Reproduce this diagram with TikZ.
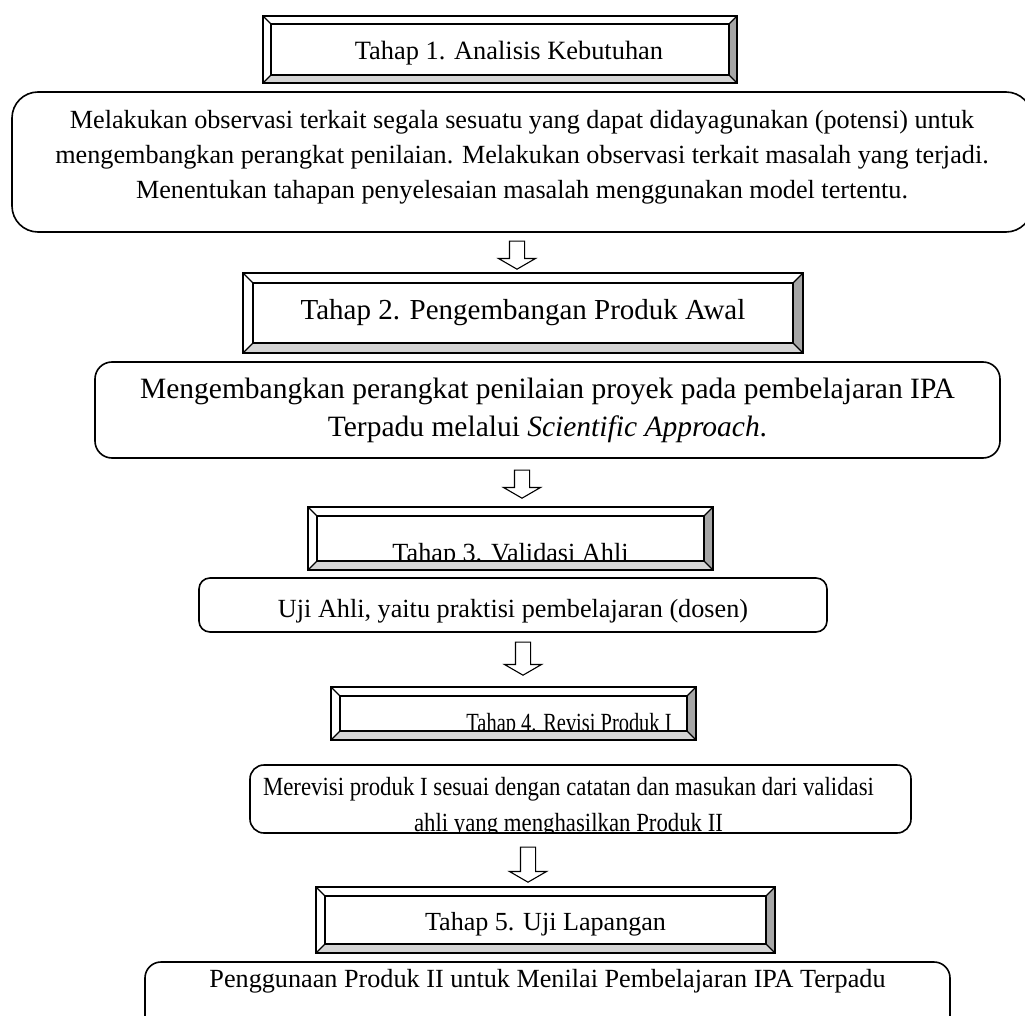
\documentclass[tikz,border=0pt]{standalone}
\usepackage{fontspec}
\usepackage{graphicx}
\setmainfont{Liberation Serif}
\usetikzlibrary{shapes,arrows}
\definecolor{bevelbawah}{HTML}{D4D4D4}
\definecolor{bevelkanan}{HTML}{A6A6A6}
\newcommand{\turun}[2]{\smash{\raisebox{-#1}{#2}}}
\tikzset{
  tahap/.style={draw, line width=1.6pt, outer sep=0pt, inner sep=0pt, font=\fontsize{26.2}{30}\selectfont},
  isi/.style={draw, rounded corners=#1, line width=1.6pt, outer sep=0pt, inner sep=0pt, align=center, font=\fontsize{26.2}{35}\selectfont},
  isi/.default=16pt,
  panah/.style={single arrow, draw, line width=1.1pt, shape border rotate=270, minimum height=#1, minimum width=0pt,
      single arrow head extend=11pt, single arrow tip angle=120, inner xsep=7pt, inner ysep=0pt},
  panah/.default=28pt
}

\begin{document}
\begin{tikzpicture}[x=1pt, y=1pt, node distance=100pt]
    \useasboundingbox (0,0) rectangle (1025,-1016);

	\node[tahap, minimum width=474pt, minimum height=67pt, font=\fontsize{26.4}{30}\selectfont] (tahap1) at (500,-49.5)
        {\turun{10.5pt}{\hspace*{18pt}Tahap 1. Analisis Kebutuhan}};
	\node[isi=26pt, below of=tahap1, node distance=112.5pt, xshift=22pt, minimum width=1020pt, minimum height=140pt] (isi1)
        {Melakukan observasi terkait segala sesuatu yang dapat didayagunakan (potensi) untuk\\
         mengembangkan perangkat penilaian. Melakukan observasi terkait masalah yang terjadi.\\
         Menentukan tahapan penyelesaian masalah menggunakan model tertentu.\rule[-16pt]{0pt}{1pt}};
	\node[panah, below of=isi1, node distance=91pt, xshift=-5pt] (panah1) {};

	\node[tahap, below of=panah1, node distance=60pt, xshift=6pt, minimum width=560pt, minimum height=80pt, font=\fontsize{29}{34}\selectfont] (tahap2)
        {Tahap 2. Pengembangan Produk Awal};
	\node[isi=17pt, below of=tahap2, node distance=97pt, xshift=24.5pt, minimum width=905pt, minimum height=96pt, font=\fontsize{29.5}{38}\selectfont] (isi2)
        {Mengembangkan perangkat penilaian proyek pada pembelajaran IPA\\
         Terpadu melalui \textit{Scientific Approach}.};
	\node[panah, below of=isi2, node distance=72pt, xshift=-25.5pt] (panah2) {};

	\node[tahap, below of=panah2, node distance=56.5pt, xshift=-11.5pt, minimum width=405pt, minimum height=63pt] (tahap3)
        {\turun{22.5pt}{Tahap 3. Validasi Ahli}};
	\node[isi=11pt, below of=tahap3, node distance=66.5pt, xshift=2.5pt, minimum width=628pt, minimum height=54pt] (isi3)
        {\turun{12pt}{Uji Ahli, yaitu praktisi pembelajaran (dosen)}};
	\node[panah=33pt, below of=isi3, node distance=51.5pt, xshift=10pt] (panah3) {};

	\node[tahap, below of=panah3, node distance=57pt, xshift=-9.5pt, minimum width=365pt, minimum height=53pt] (tahap4)
        {\turun{17.5pt}{\hspace*{111pt}\scalebox{0.78}[1]{Tahap 4. Revisi Produk I}}};
	\node[isi=14pt, below of=tahap4, node distance=85.5pt, xshift=67pt, minimum width=661pt, minimum height=68pt,
        path picture={
            \node[anchor=base, inner sep=0pt, font=\fontsize{26.2}{35}\selectfont] at ([xshift=-12pt, yshift=4pt]path picture bounding box.center)
                {\scalebox{0.87}[1]{Merevisi produk I sesuai dengan catatan dan masukan dari validasi}};
            \node[anchor=base, inner sep=0pt, font=\fontsize{26.2}{35}\selectfont] at ([xshift=-12pt, yshift=-32pt]path picture bounding box.center)
                {\scalebox{0.87}[1]{ahli yang menghasilkan Produk II}};
        }] (isi4) {};
	\node[panah=35pt, below of=isi4, node distance=63.5pt, xshift=-52.5pt] (panah4) {};

	\node[tahap, below of=panah4, node distance=57.5pt, xshift=17.5pt, minimum width=459pt, minimum height=66pt, font=\fontsize{26.1}{30}\selectfont] (tahap5)
        {\turun{10pt}{Tahap 5. Uji Lapangan}};
	\node[isi=16pt, below of=tahap5, node distance=97pt, xshift=2pt, minimum width=805pt, minimum height=110pt] (isi5)
        {\turun{-30pt}{Penggunaan Produk II untuk Menilai Pembelajaran IPA Terpadu}};

    % bingkai timbul
	\foreach \n/\d in {tahap1/8, tahap2/10, tahap3/9, tahap4/9, tahap5/9}{
        \fill[bevelbawah] (\n.south west) -- (\n.south east) -- ([shift={(-\d,\d)}]\n.south east) -- ([shift={(\d,\d)}]\n.south west) -- cycle;
        \fill[bevelkanan] (\n.north east) -- (\n.south east) -- ([shift={(-\d,\d)}]\n.south east) -- ([shift={(-\d,-\d)}]\n.north east) -- cycle;
        \draw[line width=1.6pt] ([shift={(\d,-\d)}]\n.north west) rectangle ([shift={(-\d,\d)}]\n.south east);
        \draw[line width=1.6pt] (\n.north west) rectangle (\n.south east);
        \draw[line width=1.2pt] (\n.north west) -- ([shift={(\d,-\d)}]\n.north west);
        \draw[line width=1.2pt] (\n.north east) -- ([shift={(-\d,-\d)}]\n.north east);
        \draw[line width=1.2pt] (\n.south west) -- ([shift={(\d,\d)}]\n.south west);
        \draw[line width=1.2pt] (\n.south east) -- ([shift={(-\d,\d)}]\n.south east);
    }
\end{tikzpicture}
\end{document}
